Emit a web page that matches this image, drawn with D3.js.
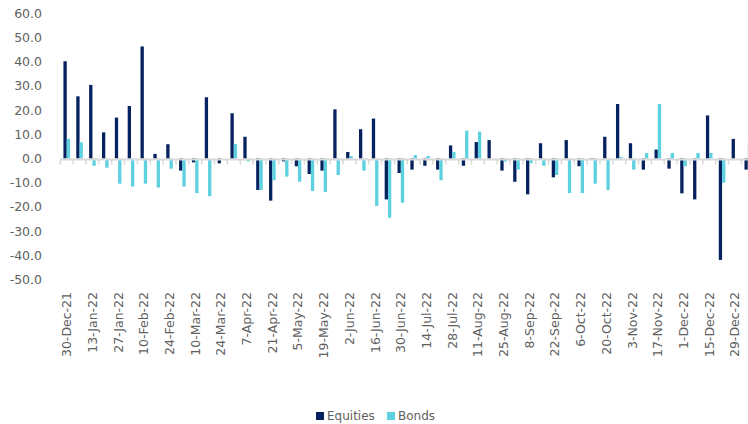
<!DOCTYPE html>
<meta charset="utf-8">

<!-- Load d3.js -->
<script src="https://d3js.org/d3.v7.min.js"></script>

<style>
body { margin: 0; background: #fff; }
text { font-family: "DejaVu Sans", sans-serif; fill: #606060; }
</style>

<div id="my_dataviz"></div>

<script>

// weekly dates, 30-Dec-21 .. 5-Jan-23
var weeks = ["30-Dec-21","6-Jan-22","13-Jan-22","20-Jan-22","27-Jan-22","3-Feb-22","10-Feb-22","17-Feb-22","24-Feb-22",
  "3-Mar-22","10-Mar-22","17-Mar-22","24-Mar-22","31-Mar-22","7-Apr-22","14-Apr-22","21-Apr-22","28-Apr-22",
  "5-May-22","12-May-22","19-May-22","26-May-22","2-Jun-22","9-Jun-22","16-Jun-22","23-Jun-22","30-Jun-22",
  "7-Jul-22","14-Jul-22","21-Jul-22","28-Jul-22","4-Aug-22","11-Aug-22","18-Aug-22","25-Aug-22",
  "1-Sep-22","8-Sep-22","15-Sep-22","22-Sep-22","29-Sep-22","6-Oct-22","13-Oct-22","20-Oct-22","27-Oct-22",
  "3-Nov-22","10-Nov-22","17-Nov-22","24-Nov-22","1-Dec-22","8-Dec-22","15-Dec-22","22-Dec-22","29-Dec-22","5-Jan-23"];

var equities = [40.2, 25.7, 30.4, 10.8, 16.9, 21.7, 46.3, 1.9, 5.9,
  -5.0, -1.6, 25.3, -2.0, 18.7, 9.0, -13.0, -17.4, -1.2,
  -3.2, -6.4, -5.0, 20.3, 2.7, 12.1, 16.5, -16.9, -6.0,
  -4.6, -3.0, -4.6, 5.4, -3.0, 6.8, 7.6, -5.0,
  -9.6, -14.8, 6.3, -7.8, 7.6, -3.2, -0.5, 9.0, 22.5,
  6.3, -4.6, 3.7, -4.2, -14.4, -16.9, 17.8, -41.9, 8.1, -4.6];

var bonds = [8.1, 6.7, -3.0, -3.8, -10.4, -11.6, -10.4, -12.0, -4.2,
  -11.6, -14.3, -15.6, 0, 6.0, -1.2, -13.0, -9.0, -7.5,
  -9.6, -13.4, -13.8, -6.8, 1.0, -5.0, -19.6, -24.5, -18.3,
  1.4, 1.0, -9.0, 2.7, 11.5, 11.1, 0, -1.3,
  -4.6, -2.0, -3.0, -6.8, -14.3, -14.3, -10.4, -13.0, 0.6,
  -4.6, 2.3, 22.5, 2.3, -3.2, 2.3, 2.3, -10.0, 0, 6.3];

var seriesNames = ["Equities", "Bonds"];
var colors = ["#05215e", "#5dd1e0"];
var yTicks = [60, 50, 40, 30, 20, 10, 0, -10, -20, -30, -40, -50];

var width = 748, height = 424;

var svg = d3.select("#my_dataviz")
  .append("svg")
    .attr("width", width)
    .attr("height", height);

// build rows
var data = weeks.map(function(w, i) {
  return {week: w, values: [equities[i], bonds[i]]};
});

// X scale: one band per week, plot runs a little past the right edge
var step = 12.85;
var x0 = d3.scaleBand()
  .domain(weeks)
  .range([60.3, 60.3 + step * weeks.length])
  .paddingInner(0)
  .paddingOuter(0);

var x1 = d3.scaleBand()
  .domain(seriesNames)
  .range([0, x0.bandwidth()])
  .paddingInner(0)
  .paddingOuter(0.95);

// Y scale
var y = d3.scaleLinear()
  .domain([-50, 60])
  .range([279.5, 13.3]);

// Y axis labels (no line)
svg.append("g")
  .attr("transform", "translate(42,0)")
  .call(d3.axisLeft(y).tickValues(yTicks).tickSize(0).tickPadding(0)
    .tickFormat(function(d) { return d.toFixed(1); }))
  .call(function(g) { g.select(".domain").remove(); })
  .selectAll("text")
    .style("font-size", "12.5px")
    .style("font-family", "DejaVu Sans")
    .attr("fill", "#606060");

// bars
svg.append("g")
  .selectAll("g")
  .data(data)
  .enter()
  .append("g")
    .attr("transform", function(d) { return "translate(" + x0(d.week) + ",0)"; })
  .selectAll("rect")
  .data(function(d) { return d.values.map(function(v, k) { return {key: seriesNames[k], value: v, k: k}; }); })
  .enter()
  .append("rect")
    .attr("x", function(d) { return x1(d.key); })
    .attr("width", x1.bandwidth())
    .attr("y", function(d) { return y(Math.max(0, d.value)); })
    .attr("height", function(d) { return Math.abs(y(d.value) - y(0)); })
    .style("fill", function(d) { return colors[d.k]; });

// zero axis line and tick marks at week boundaries
var zeroY = y(0) + 1;
svg.append("line")
  .attr("x1", x0.range()[0])
  .attr("x2", x0.range()[1])
  .attr("y1", zeroY)
  .attr("y2", zeroY)
  .style("stroke", "#d9d9d9")
  .style("stroke-width", 2);

var boundaries = weeks.map(function(w) { return x0(w); });
svg.append("g")
  .selectAll("line")
  .data(boundaries)
  .enter()
  .append("line")
    .attr("x1", function(d) { return d; })
    .attr("x2", function(d) { return d; })
    .attr("y1", zeroY)
    .attr("y2", zeroY + 5)
    .style("stroke", "#d9d9d9")
    .style("stroke-width", 1.5);

// X labels, every other week, rotated
svg.append("g")
  .selectAll("text")
  .data(weeks.filter(function(w, i) { return i % 2 === 0 && i < 53; }))
  .enter()
  .append("text")
    .attr("transform", function(d) {
      return "translate(" + (x0(d) + x0.bandwidth() / 2) + ",292) rotate(-90)";
    })
    .attr("dy", "0.35em")
    .attr("text-anchor", "end")
    .style("font-size", "12.5px")
    .text(function(d) { return d; });

// legend
var legendX = [316, 387];
var legend = svg.append("g")
  .selectAll("g")
  .data(seriesNames)
  .enter()
  .append("g")
    .attr("transform", function(d, i) { return "translate(" + legendX[i] + ",412)"; });

legend.append("rect")
  .attr("width", 8)
  .attr("height", 8)
  .style("fill", function(d, i) { return colors[i]; });

legend.append("text")
  .attr("x", 11)
  .attr("y", 8)
  .style("font-size", "12px")
  .text(function(d) { return d; });

</script>
